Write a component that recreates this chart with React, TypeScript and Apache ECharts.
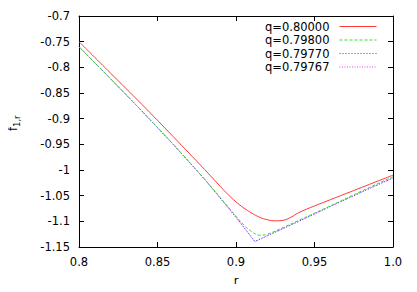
import React, { useEffect, useRef } from "react";
import * as echarts from "echarts";

const seriesNames = ["q=0.80000", "q=0.79800", "q=0.79770", "q=0.79767"];

const rRed = [0.8, 0.82, 0.84, 0.86, 0.88, 0.89, 0.895, 0.9, 0.905, 0.91, 0.915, 0.92, 0.925, 0.93, 0.935, 0.94, 0.95, 0.96, 0.97, 0.98, 0.99, 1.0];
const fRed = [-0.75, -0.811, -0.872, -0.935, -0.999, -1.032, -1.048, -1.062, -1.074, -1.084, -1.092, -1.097, -1.099, -1.098, -1.092, -1.083, -1.07, -1.058, -1.046, -1.034, -1.022, -1.01];

const rGreen = [0.8, 0.82, 0.84, 0.86, 0.88, 0.9, 0.905, 0.91, 0.915, 0.92, 0.93, 0.94, 0.96, 0.98, 1.0];
const fGreen = [-0.76, -0.822, -0.885, -0.95, -1.018, -1.09, -1.107, -1.12, -1.127, -1.125, -1.112, -1.098, -1.07, -1.041, -1.013];

const rBlue = [0.8, 0.82, 0.84, 0.86, 0.88, 0.9, 0.912, 0.92, 0.94, 0.96, 0.98, 1.0];
const fBlue = [-0.76, -0.822, -0.885, -0.95, -1.018, -1.092, -1.139, -1.128, -1.1, -1.071, -1.043, -1.0154];

const rMagenta = [0.8, 0.82, 0.84, 0.86, 0.88, 0.9, 0.912, 0.92, 0.94, 0.96, 0.98, 1.0];
const fMagenta = [-0.76, -0.822, -0.885, -0.95, -1.018, -1.092, -1.14, -1.128, -1.1, -1.071, -1.043, -1.0154];

const xTicks = { min: 0.8, max: 1.0, interval: 0.05 };
const yTicks = { min: -1.15, max: -0.7, interval: 0.05 };

const FONT = "DejaVu Sans";

function pairs(r: number[], f: number[]) {
  return r.map((v, i) => [v, f[i]]);
}

export default function App() {
  const ref = useRef<HTMLDivElement>(null);
  useEffect(() => {
    if (!ref.current) return;
    const chart = echarts.init(ref.current, undefined, { renderer: "svg", width: 417, height: 292 });
    const axisLine = { show: true, lineStyle: { color: "#000", width: 1 } };
    const tick = { show: true, inside: true, length: 5, lineStyle: { color: "#000" } };
    const lbl = { color: "#000", fontFamily: FONT, fontSize: 11.5 };
    const colors = ["#ff3838", "#30e030", "#3a3aff", "#ee40ee"];
    const types: any[] = ["solid", [3, 2], [1, 2], [1, 1.5]];
    const data = [pairs(rRed, fRed), pairs(rGreen, fGreen), pairs(rBlue, fBlue), pairs(rMagenta, fMagenta)];
    chart.setOption({
      animation: false,
      grid: { left: 79, right: 24, top: 16, bottom: 42, containLabel: false },
      xAxis: [
        {
          type: "value",
          min: xTicks.min,
          max: xTicks.max,
          interval: xTicks.interval,
          position: "bottom",
          axisLine,
          axisTick: tick,
          splitLine: { show: false },
          axisLabel: {
            ...lbl,
            margin: 9,
            formatter: (v: number) => (Math.abs(v - 1) < 1e-9 ? "1.0" : String(Number(v.toFixed(2)))),
          },
          name: "r",
          nameLocation: "middle",
          nameGap: 28,
          nameTextStyle: { ...lbl },
        },
        {
          type: "value",
          min: xTicks.min,
          max: xTicks.max,
          interval: xTicks.interval,
          position: "top",
          axisLine,
          axisTick: tick,
          splitLine: { show: false },
          axisLabel: { show: false },
        },
      ],
      yAxis: [
        {
          type: "value",
          min: yTicks.min,
          max: yTicks.max,
          interval: yTicks.interval,
          position: "left",
          axisLine,
          axisTick: tick,
          splitLine: { show: false },
          axisLabel: {
            ...lbl,
            margin: 9,
            formatter: (v: number) => String(Number(v.toFixed(2))),
          },
        },
        {
          type: "value",
          min: yTicks.min,
          max: yTicks.max,
          interval: yTicks.interval,
          position: "right",
          axisLine,
          axisTick: tick,
          splitLine: { show: false },
          axisLabel: { show: false },
        },
      ],
      legend: {
        orient: "vertical",
        right: 40,
        top: 20,
        padding: 0,
        align: "right",
        itemWidth: 37,
        itemHeight: 10,
        itemGap: 0.5,
        itemStyle: { opacity: 0 },
        lineStyle: { width: 1 },
        textStyle: { ...lbl, lineHeight: 13, padding: [0, 5, 0, 0] },
        data: seriesNames,
      },
      graphic: [
        {
          type: "group",
          x: 13,
          y: 131,
          rotation: Math.PI / 2,
          children: [
            {
              type: "text",
              x: 0,
              y: 0,
              style: { text: "f", fontFamily: FONT, fontSize: 11.5, fill: "#000", textAlign: "left", textVerticalAlign: "middle" },
            },
            {
              type: "text",
              x: 4,
              y: 4,
              style: { text: "1,r", fontFamily: FONT, fontSize: 8.5, fill: "#000", textAlign: "left", textVerticalAlign: "middle" },
            },
          ],
        },
      ],
      series: seriesNames.map((name, i) => ({
        name,
        type: "line",
        xAxisIndex: 0,
        yAxisIndex: 0,
        data: data[i],
        symbol: "none",
        showSymbol: false,
        smooth: i < 2 ? 0.4 : false,
        z: 10 - i,
        lineStyle: { color: colors[i], width: 1, type: types[i] },
        itemStyle: { color: colors[i] },
      })),
    });
    return () => chart.dispose();
  }, []);
  return <div ref={ref} style={{ width: 417, height: 292, margin: -8 }} />;
}
